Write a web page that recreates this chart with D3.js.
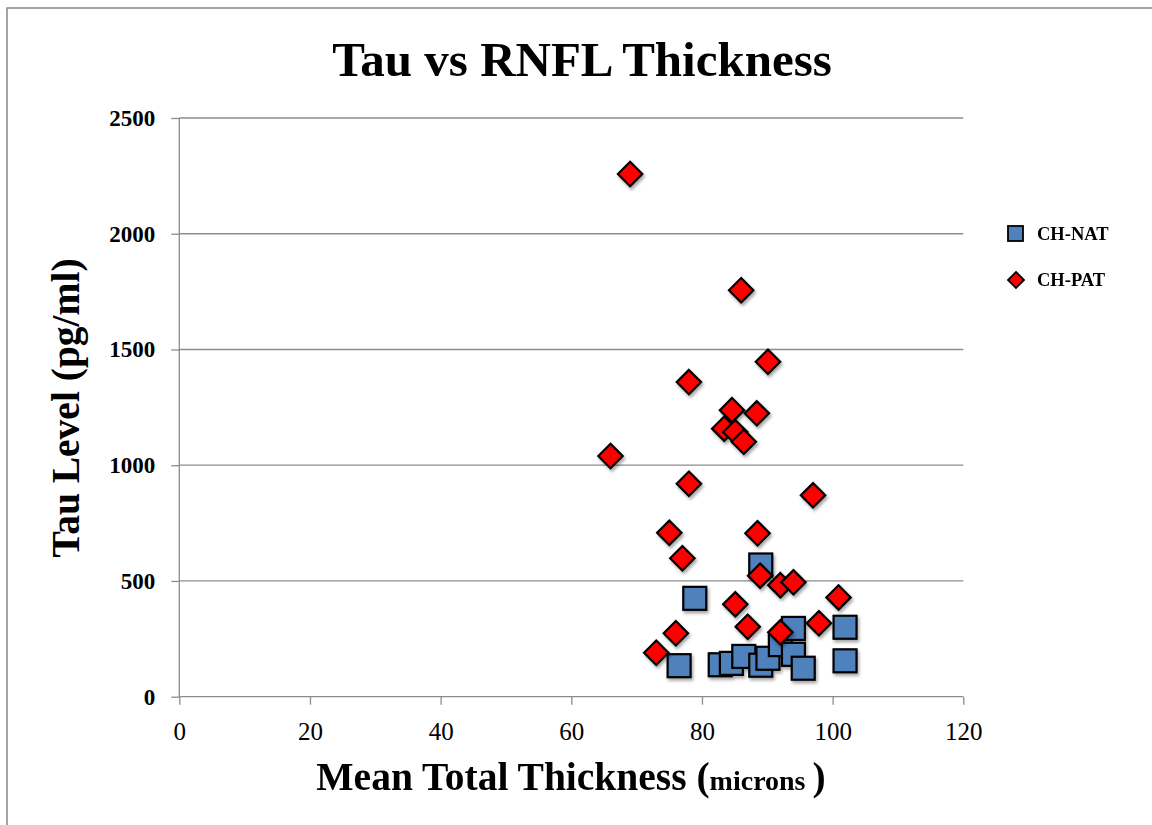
<!DOCTYPE html>
<html><head><meta charset="utf-8">
<script src="https://cdn.jsdelivr.net/npm/d3@7"></script>
<style>body{margin:0;background:#fff}svg{display:block}</style>
</head><body>
<svg id="chart" width="1152" height="825"></svg>
<script>
const title = "Tau vs RNFL Thickness";
const xTitle = "Mean Total Thickness";
const xUnit = "microns";
const yTitle = "Tau Level (pg/ml)";
const xTicks = [0, 20, 40, 60, 80, 100, 120];
const yTicks = [0, 500, 1000, 1500, 2000, 2500];
const seriesNames = ["CH-NAT", "CH-PAT"];
const natX = [78.9, 89.0, 76.5, 82.8, 84.5, 86.4, 89.0, 90.1, 92.0, 94.0, 94.0, 95.5, 101.9, 101.9];
const natY = [425, 569, 134, 138, 144, 174, 136, 166, 225, 295, 183, 123, 300, 155];
const patX = [69.0, 86.0, 90.1, 78.0, 84.6, 88.4, 83.4, 85.1, 86.4, 66.0, 78.0, 97.0, 75.0, 88.5, 77.0, 88.9, 92.0, 94.0, 100.9, 85.1, 87.0, 97.9, 92.0, 76.0, 73.0];
const patY = [2258, 1756, 1447, 1359, 1238, 1224, 1158, 1143, 1101, 1040, 920, 870, 708, 706, 598, 523, 482, 494, 429, 399, 302, 317, 278, 274, 190];

const svg = d3.select("#chart");
const serif = "'Liberation Serif', 'DejaVu Serif', serif";
const m = {left: 179.3, right: 963.3, top: 118, bottom: 696.7};
const x = d3.scaleLinear().domain([0, 120]).range([m.left, m.right]);
const y = d3.scaleLinear().domain([0, 2500]).range([m.bottom, m.top]);

const defs = svg.append("defs");
const f = defs.append("filter").attr("id", "sh").attr("x", "-50%").attr("y", "-50%").attr("width", "200%").attr("height", "200%");
f.append("feDropShadow").attr("dx", 1.5).attr("dy", 2.5).attr("stdDeviation", 1.6).attr("flood-color", "#000").attr("flood-opacity", 0.35);

// frame
svg.append("rect").attr("x", 7).attr("y", 8).attr("width", 1300).attr("height", 1000)
  .attr("fill", "none").attr("stroke", "#888").attr("stroke-width", 1.5);

// gridlines
svg.append("g").selectAll("line").data(yTicks.filter(d => d > 0)).join("line")
  .attr("x1", m.left).attr("x2", m.right).attr("y1", d => y(d)).attr("y2", d => y(d))
  .attr("stroke", "#8c8c8c").attr("stroke-width", 1.3);

// axes
const yAxis = svg.append("g").attr("transform", `translate(${m.left},0)`)
  .call(d3.axisLeft(y).tickValues(yTicks).tickSize(8).tickPadding(16).tickFormat(d3.format("d")));
yAxis.select(".domain").attr("stroke", "#8c8c8c").attr("stroke-width", 1.3).attr("d", `M0,${m.bottom}V${m.top}`);
yAxis.selectAll(".tick line").attr("stroke", "#8c8c8c").attr("stroke-width", 1.3);
yAxis.selectAll(".tick text").attr("font-family", serif).attr("font-weight", "bold").attr("font-size", 23).attr("fill", "#000");

const xAxis = svg.append("g").attr("transform", `translate(0,${m.bottom})`)
  .call(d3.axisBottom(x).tickValues(xTicks).tickSize(8).tickPadding(18).tickFormat(d3.format("d")));
xAxis.select(".domain").attr("stroke", "#8c8c8c").attr("stroke-width", 1.3).attr("d", `M${m.left},0H${m.right}`);
xAxis.selectAll(".tick line").attr("stroke", "#8c8c8c").attr("stroke-width", 1.3);
xAxis.selectAll(".tick text").attr("font-family", serif).attr("font-size", 25).attr("fill", "#000");

// points
const natData = natX.map((v, i) => ({x: v, y: natY[i]}));
const patData = patX.map((v, i) => ({x: v, y: patY[i]}));
const sq = 23;
svg.append("g").attr("filter", "url(#sh)").selectAll("rect").data(natData).join("rect")
  .attr("x", d => x(d.x) - sq / 2).attr("y", d => y(d.y) - sq / 2)
  .attr("width", sq).attr("height", sq)
  .attr("fill", "#4F81BD").attr("stroke", "#000").attr("stroke-width", 2.2);
const dh = 12.2;
const diamond = `M0,${-dh}L${dh},0L0,${dh}L${-dh},0Z`;
svg.append("g").attr("filter", "url(#sh)").selectAll("path").data(patData).join("path")
  .attr("transform", d => `translate(${x(d.x)},${y(d.y)})`)
  .attr("d", diamond)
  .attr("fill", "#FF0000").attr("stroke", "#000").attr("stroke-width", 2.2).attr("stroke-linejoin", "miter");

// legend
const lg = svg.append("g");
lg.append("rect").attr("x", 1008).attr("y", 226).attr("width", 15).attr("height", 15)
  .attr("fill", "#4F81BD").attr("stroke", "#000").attr("stroke-width", 1.8);
const ld = 8;
lg.append("path").attr("transform", "translate(1016,280)")
  .attr("d", `M0,${-ld}L${ld},0L0,${ld}L${-ld},0Z`)
  .attr("fill", "#FF0000").attr("stroke", "#000").attr("stroke-width", 1.8);
lg.selectAll("text").data(seriesNames).join("text")
  .attr("x", 1037).attr("y", (d, i) => 234 + i * 46).attr("dy", "0.35em")
  .attr("font-family", serif).attr("font-weight", "bold").attr("font-size", 18.5).text(d => d);

// titles
svg.append("text").attr("x", 582).attr("y", 76).attr("text-anchor", "middle")
  .attr("font-family", serif).attr("font-weight", "bold").attr("font-size", 49).text(title);

const xt = svg.append("text").attr("x", 571).attr("y", 790).attr("text-anchor", "middle")
  .attr("font-family", serif).attr("font-weight", "bold").attr("font-size", 39.5);
xt.append("tspan").text(xTitle + " (");
xt.append("tspan").attr("font-size", 28).text(xUnit + " ");
xt.append("tspan").text(")");

svg.append("text").attr("transform", "translate(79,408) rotate(-90)").attr("text-anchor", "middle")
  .attr("font-family", serif).attr("font-weight", "bold").attr("font-size", 39.5).text(yTitle);
</script>
</body></html>
